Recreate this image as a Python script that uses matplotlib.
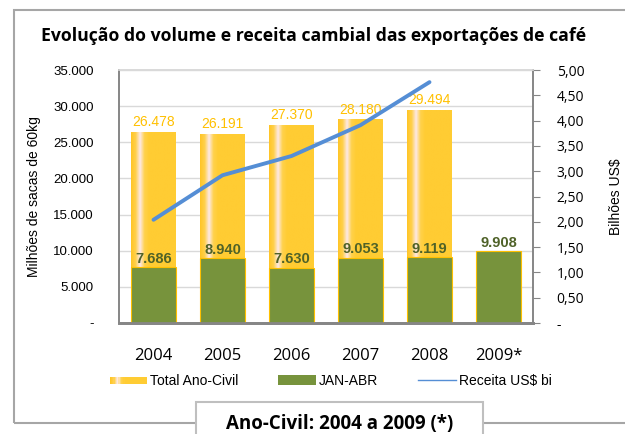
import matplotlib.pyplot as plt
import numpy as np
from matplotlib.colors import LinearSegmentedColormap
from matplotlib.patches import Rectangle
from matplotlib.lines import Line2D
from matplotlib.legend_handler import HandlerBase

# dados
anos = ["2004", "2005", "2006", "2007", "2008", "2009*"]
total_ano = [26478, 26191, 27370, 28180, 29494, None]
jan_abr = [7686, 8940, 7630, 9053, 9119, 9908]
receita = [2.04, 2.92, 3.30, 3.91, 4.76]  # US$ bi, 2004-2008

esq_ticks = [0, 5000, 10000, 15000, 20000, 25000, 30000, 35000]
dir_ticks = [0, 0.5, 1.0, 1.5, 2.0, 2.5, 3.0, 3.5, 4.0, 4.5, 5.0]

AMARELO = "#FFCC33"
VERDE = "#77933C"
AZUL = "#558ED5"
NARROW = ["Liberation Sans Narrow", "Liberation Sans", "DejaVu Sans"]
CALIBRI = ["Open Sans", "DejaVu Sans"]

grad = LinearSegmentedColormap.from_list(
    "grad", [(0, "#FFC526"), (0.1, "#FFD04A"), (0.2, "#FDE9E6"),
             (0.3, "#FFD24C"), (0.4, AMARELO), (1, AMARELO)])


def fmt_br(v):
    return "-" if v == 0 else f"{v:,.0f}".replace(",", ".")


fig = plt.figure(figsize=(6.25, 4.34), dpi=100)
ax = fig.add_axes([119 / 625, 1 - 323 / 434, 414 / 625, 253 / 434])
ax2 = ax.twinx()

x = np.arange(len(anos))
larg = 0.64

# barras do total (com degradê)
tot_x = [i for i, v in enumerate(total_ano) if v is not None]
tot_v = [v for v in total_ano if v is not None]
barras = ax.bar(tot_x, tot_v, width=larg, color=AMARELO, zorder=2)
gx = np.linspace(0, 1, 200).reshape(1, -1)
for b in barras:
    im = ax.imshow(gx, cmap=grad, aspect="auto", zorder=2.1,
                   extent=[b.get_x(), b.get_x() + b.get_width(), 0, b.get_height()])
    im.set_clip_path(b)
for xi, v in zip(tot_x, tot_v):
    ax.annotate(fmt_br(v), (xi, v), xytext=(0, 2), textcoords="offset points",
                ha="center", va="bottom", color="#FFC000", fontsize=10, family=NARROW)

# barras JAN-ABR
ax.bar(x, jan_abr, width=larg, color=VERDE, edgecolor="#FFC000", linewidth=0.8, zorder=3)
for xi, v in zip(x, jan_abr):
    ax.annotate(fmt_br(v), (xi, v), xytext=(0, 1), textcoords="offset points",
                ha="center", va="bottom", color="#4F6228", fontsize=10.5,
                fontweight="bold", family=NARROW, zorder=4)

ax.set_ylim(0, 35000)
ax.set_xlim(-0.5, len(anos) - 0.5)
ax.set_yticks(esq_ticks)
ax.set_yticklabels([fmt_br(t) for t in esq_ticks], family=NARROW, fontsize=9.5)
ax.tick_params(axis="y", length=0, pad=18)
ax.set_xticks(x)
ax.set_xticklabels(anos, family=CALIBRI, fontsize=12)
ax.tick_params(axis="x", length=0, pad=18)
ax.grid(axis="y", color="#D9D9D9", linewidth=1, zorder=0)
ax.set_axisbelow(True)
ax.set_ylabel("Milhões de sacas de 60kg", family=NARROW, fontsize=10, labelpad=9)

# linha da receita
ax2.plot(range(len(receita)), receita, color=AZUL, linewidth=2.8, zorder=5,
         solid_capstyle="round")
ax2.set_ylim(0, 5)
ax2.set_yticks(dir_ticks)
ax2.set_yticklabels(["-" if t == 0 else f"{t:.2f}".replace(".", ",") for t in dir_ticks],
                    family=CALIBRI, fontsize=10)
ax2.tick_params(axis="y", length=5, color="#868686", pad=12)
ax2.set_ylabel("Bilhões US$", family=NARROW, fontsize=10, labelpad=18)

for a in (ax, ax2):
    for s in a.spines.values():
        s.set_color("#868686")
        s.set_linewidth(1.2)
    a.spines["bottom"].set_linewidth(2)
ax.spines["top"].set_color("#D9D9D9")
ax2.spines["top"].set_color("#D9D9D9")

# título
fig.text(314 / 625, 1 - 36 / 434,
         "Evolução do volume e receita cambial das exportações de café",
         ha="center", va="center", fontsize=12.7, fontweight="bold", family=CALIBRI)


# legenda com degradê
class HandlerGrad(HandlerBase):
    def create_artists(self, legend, orig, xd, yd, w, h, fontsize, trans):
        n = 30
        arts = []
        for k in range(n):
            r = Rectangle((xd + w * k / n, yd + h * 0.15), w / n + 0.3, h * 0.7,
                          facecolor=grad(k / (n - 1)), edgecolor="none", transform=trans)
            arts.append(r)
        return arts


h_tot = Rectangle((0, 0), 1, 1, facecolor=AMARELO)
h_jan = Rectangle((0, 0), 1, 1, facecolor=VERDE)
h_rec = Line2D([], [], color=AZUL, linewidth=1)
fig.legend([h_tot, h_jan, h_rec], ["Total Ano-Civil", "JAN-ABR", "Receita US$ bi"],
           loc="center left", bbox_to_anchor=(97 / 625, 1 - 381 / 434), ncol=3,
           frameon=False, prop={"family": NARROW, "size": 10},
           handlelength=2.7, handleheight=0.7, handletextpad=0.2, columnspacing=2.9,
           handler_map={h_tot: HandlerGrad()})

# moldura externa e caixa inferior
fig.patches.append(Rectangle((14 / 625, 1 - 423 / 434), 1, 413 / 434, fill=False,
                             edgecolor="#A6A6A6", linewidth=1.5,
                             transform=fig.transFigure, zorder=0))
fig.patches.append(Rectangle((196 / 625, -0.05), 287 / 625, 0.05 + 32 / 434,
                             facecolor="white", edgecolor="#BFBFBF", linewidth=1.5,
                             transform=fig.transFigure, zorder=1))
fig.text(340 / 625, 1 - 424 / 434, "Ano-Civil: 2004 a 2009 (*)", ha="center",
         va="center", fontsize=13.5, fontweight="bold", family=CALIBRI, zorder=2)

fig.savefig("out.png", dpi=100)
